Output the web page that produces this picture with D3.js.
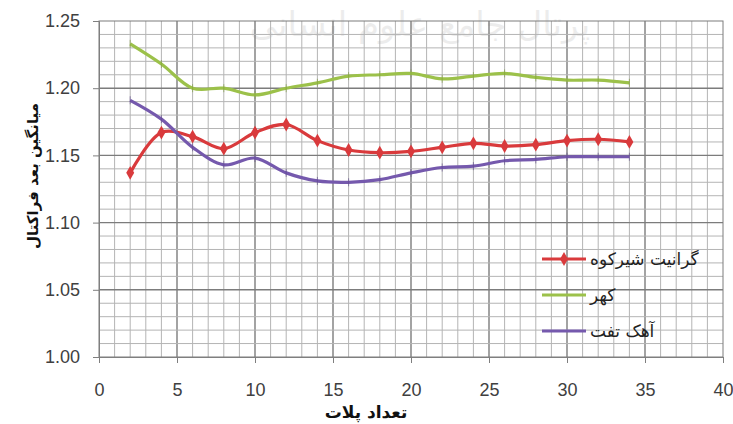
<!DOCTYPE html>
<html>
<head>
<meta charset="utf-8">
<script src="https://cdn.jsdelivr.net/npm/d3@7"></script>
<style>
  body { margin: 0; background: #fff; }
  svg text { font-family: "Liberation Sans", Arial, sans-serif; }
  .fa { font-family: "DejaVu Sans", "Noto Sans", sans-serif; }
</style>
</head>
<body>
<div id="chart"></div>
<script>
// Data
const plots = [2, 4, 6, 8, 10, 12, 14, 16, 18, 20, 22, 24, 26, 28, 30, 32, 34];
const granite = [1.137, 1.167, 1.164, 1.155, 1.167, 1.173, 1.161, 1.154, 1.152, 1.153, 1.156, 1.159, 1.157, 1.158, 1.161, 1.162, 1.160];
const kahar = [1.233, 1.218, 1.200, 1.200, 1.195, 1.200, 1.204, 1.209, 1.210, 1.211, 1.207, 1.209, 1.211, 1.208, 1.206, 1.206, 1.204];
const taft = [1.191, 1.177, 1.156, 1.143, 1.148, 1.137, 1.131, 1.130, 1.132, 1.137, 1.141, 1.142, 1.146, 1.147, 1.149, 1.149, 1.149];
const seriesNames = ["گرانیت شیرکوه", "کهر", "آهک تفت"];
const xTicks = [0, 5, 10, 15, 20, 25, 30, 35, 40];
const yTicks = [1.00, 1.05, 1.10, 1.15, 1.20, 1.25];

const w = 733, h = 424;
const m = { top: 21, right: 10, bottom: 67, left: 99 };

const svg = d3.select("#chart").append("svg")
  .attr("width", w)
  .attr("height", h);

const x = d3.scaleLinear().domain([0, 40]).range([m.left, w - m.right]);
const y = d3.scaleLinear().domain([1.00, 1.25]).range([h - m.bottom, m.top]);

// faint watermark at the top
svg.append("text")
  .attr("class", "fa")
  .attr("x", 420).attr("y", 36)
  .attr("text-anchor", "middle")
  .style("font-size", "34px")
  .style("fill", "#000")
  .style("opacity", 0.07)
  .text("پرتال جامع علوم انسانی");

// Grid: minor every 1 / 0.01, major every 5 / 0.05
const grid = svg.append("g");
grid.selectAll(".v")
  .data(d3.range(1, 40))
  .enter().append("line")
  .attr("x1", d => x(d)).attr("x2", d => x(d))
  .attr("y1", y(1.25)).attr("y2", y(1.00))
  .style("stroke", d => d % 5 === 0 ? "#7c7c7c" : "#b4b4b4")
  .style("stroke-width", d => d % 5 === 0 ? 1.4 : 1);
grid.selectAll(".h")
  .data(d3.range(1, 25))
  .enter().append("line")
  .attr("x1", x(0)).attr("x2", x(40))
  .attr("y1", d => y(1 + d * 0.01)).attr("y2", d => y(1 + d * 0.01))
  .style("stroke", d => d % 5 === 0 ? "#7c7c7c" : "#b4b4b4")
  .style("stroke-width", d => d % 5 === 0 ? 1.4 : 1);

// frame
svg.append("rect")
  .attr("x", x(0)).attr("y", y(1.25))
  .attr("width", x(40) - x(0)).attr("height", y(1.00) - y(1.25))
  .style("fill", "none")
  .style("stroke", "#7c7c7c");

// Axes
const xAxis = d3.axisBottom(x).tickValues(xTicks).tickSize(6).tickPadding(20).tickFormat(d3.format("d"));
const yAxis = d3.axisLeft(y).tickValues(yTicks).tickSize(6).tickPadding(13).tickFormat(d3.format(".2f"));

const gx = svg.append("g")
  .attr("transform", "translate(0," + y(1.00) + ")")
  .call(xAxis);
const gy = svg.append("g")
  .attr("transform", "translate(" + x(0) + ",0)")
  .call(yAxis);
[gx, gy].forEach(g => {
  g.select(".domain").style("stroke", "#7f7f7f");
  g.selectAll(".tick line").style("stroke", "#7f7f7f");
  g.selectAll(".tick text").style("font-size", "18px").style("fill", "#404040");
});

// Axis titles
svg.append("text")
  .attr("class", "fa")
  .attr("x", 366).attr("y", 418)
  .attr("text-anchor", "middle")
  .style("font-size", "17px")
  .style("font-weight", "bold")
  .style("fill", "#111")
  .text("تعداد پلات");

svg.append("text")
  .attr("class", "fa")
  .attr("transform", "translate(38,176) rotate(-90)")
  .attr("text-anchor", "middle")
  .style("font-size", "15px")
  .style("font-weight", "bold")
  .style("fill", "#111")
  .text("میانگین بعد فراکتال");

// Series
const series = [
  { name: seriesNames[0], values: granite, color: "#d93a3c", marker: "diamond" },
  { name: seriesNames[1], values: kahar, color: "#9cc14a", marker: "dash" },
  { name: seriesNames[2], values: taft, color: "#7559ad", marker: "dash" }
];

const line = d3.line()
  .x((d, i) => x(plots[i]))
  .y(d => y(d))
  .curve(d3.curveCatmullRom.alpha(0.5));

const diamond = d3.symbol().type(d3.symbolDiamond).size(55);

series.forEach(s => {
  svg.append("path")
    .datum(s.values)
    .attr("d", line)
    .style("fill", "none")
    .style("stroke", s.color)
    .style("stroke-width", 3.2)
    .style("stroke-linejoin", "round");

  if (s.marker === "diamond") {
    svg.selectAll(null)
      .data(s.values)
      .enter().append("path")
      .attr("d", diamond)
      .attr("transform", (d, i) => "translate(" + x(plots[i]) + "," + y(d) + ")")
      .style("fill", s.color);
  } else {
    svg.selectAll(null)
      .data(s.values)
      .enter().append("line")
      .attr("x1", (d, i) => x(plots[i])).attr("x2", (d, i) => x(plots[i]))
      .attr("y1", d => y(d) - 4).attr("y2", d => y(d) + 4)
      .style("stroke", d3.color(s.color).darker(0.6))
      .style("stroke-width", 1)
      .style("opacity", 0.6);
  }
});

// Legend
const legend = svg.append("g");
const legY = [259, 295, 331];
series.forEach((s, i) => {
  legend.append("line")
    .attr("x1", 542).attr("x2", 586)
    .attr("y1", legY[i]).attr("y2", legY[i])
    .style("stroke", s.color)
    .style("stroke-width", 3.2);
  if (s.marker === "diamond") {
    legend.append("path")
      .attr("d", diamond)
      .attr("transform", "translate(564," + legY[i] + ")")
      .style("fill", s.color);
  }
  legend.append("text")
    .attr("class", "fa")
    .attr("x", 590).attr("y", legY[i] + 6)
    .attr("text-anchor", "start")
    .style("font-size", "17px")
    .style("fill", "#222")
    .text(s.name);
});
</script>
</body>
</html>
